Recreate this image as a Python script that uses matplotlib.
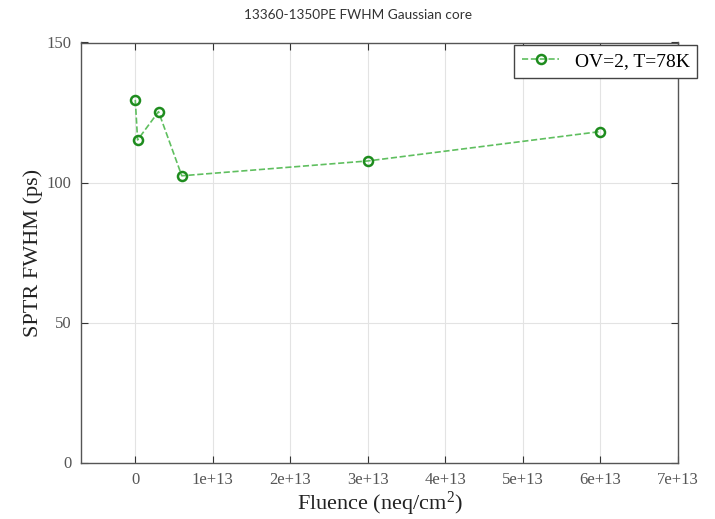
import matplotlib
matplotlib.use('Agg')
import matplotlib.pyplot as plt

# ── Data ──────────────────────────────────────────────────────────────────────
fluence = [0, 3e11, 3e12, 6e12, 3e13, 6e13]
fwhm    = [129.5, 115.2, 125.3, 102.4, 107.7, 118.2]

xticks      = [0, 1e13, 2e13, 3e13, 4e13, 5e13, 6e13, 7e13]
xticklabels = ['0', '1e+13', '2e+13', '3e+13', '4e+13', '5e+13', '6e+13', '7e+13']
yticks      = [0, 50, 100, 150]

SERIF = ['Liberation Serif', 'DejaVu Serif']
plt.rcParams['font.family'] = SERIF
plt.rcParams['mathtext.fontset'] = 'custom'
plt.rcParams['mathtext.rm'] = 'Liberation Serif'
plt.rcParams['mathtext.it'] = 'Liberation Serif:italic'

# ── Figure ────────────────────────────────────────────────────────────────────
fig = plt.figure(figsize=(7.15, 5.19), dpi=100)
ax = fig.add_axes([81/715, 1 - 462.5/519, (678 - 81)/715, (462.5 - 42.5)/519])

ax.plot(fluence, fwhm, linestyle='--', color='#5fbf5f', linewidth=1.2,
        marker='o', markersize=6.5, markerfacecolor='none',
        markeredgecolor='#1e8c1e', markeredgewidth=1.8,
        label='OV=2, T=78K')

ax.set_xlim(-0.7e13, 7e13)
ax.set_ylim(0, 150)
ax.set_xticks(xticks)
ax.set_xticklabels(xticklabels)
ax.set_yticks(yticks)

ax.grid(True, color='#e3e3e3', linewidth=0.8)
ax.set_axisbelow(True)
ax.tick_params(direction='in', top=True, right=True, length=5,
               colors='#333333', labelcolor='#555555', labelsize=12, pad=7)
for sp in ax.spines.values():
    sp.set_color('#555555')
    sp.set_linewidth(1.0)

ax.set_xlabel(r'Fluence (neq/cm$^{\rm 2}$)', fontsize=16, color='#222222', labelpad=1)
ax.set_ylabel('SPTR FWHM (ps)', fontsize=16, color='#222222', labelpad=2)

fig.text(0.5, 1 - 15/519, '13360-1350PE FWHM Gaussian core', ha='center', va='center',
         fontsize=9.8, family=['Lato', 'DejaVu Sans'], color='#333333')

leg = ax.legend(loc='upper right', bbox_to_anchor=(707/715, 1 - 35/519),
                bbox_transform=fig.transFigure, fancybox=False, framealpha=1,
                edgecolor='#444444', prop={'size': 14},
                handlelength=1.9, borderpad=0.4)
leg.get_frame().set_linewidth(1.0)

fig.savefig('out.png', dpi=100)
